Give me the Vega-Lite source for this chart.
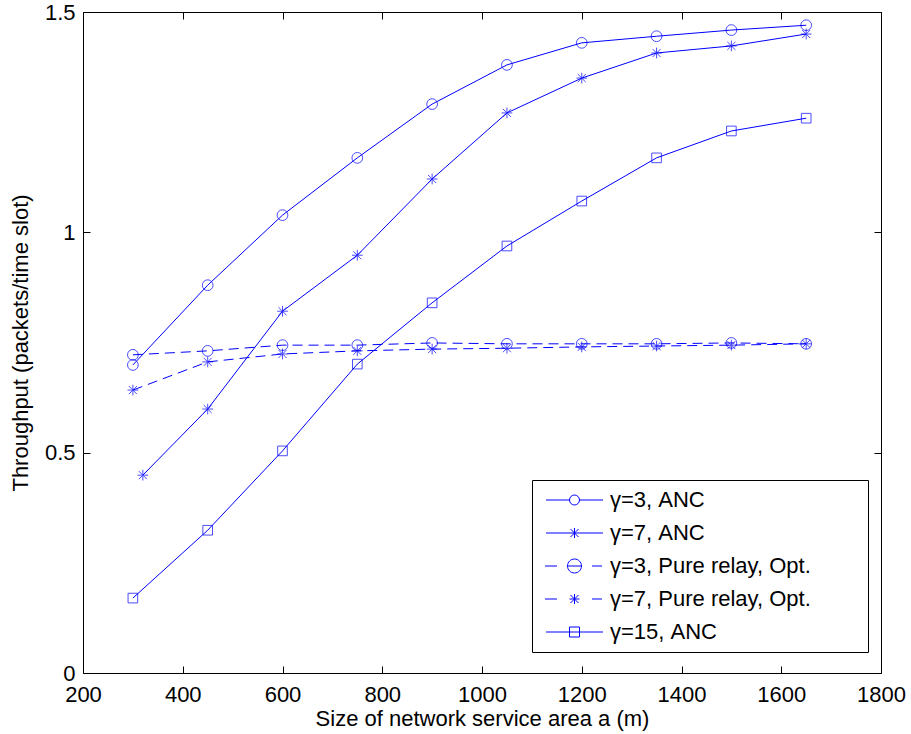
{
  "$schema": "https://vega.github.io/schema/vega-lite/v6.json",
  "width": 798,
  "height": 661,
  "autosize": {"type": "none"},
  "padding": {"left": 83, "top": 12, "right": 30, "bottom": 61},
  "background": "white",
  "config": {
    "font": "Liberation Sans",
    "view": {"stroke": "#000000", "strokeWidth": 1},
    "axis": {
      "domain": false,
      "grid": false,
      "labelFlush": false,
      "labelOverlap": false,
      "tickColor": "#000000",
      "tickSize": -7,
      "tickWidth": 1,
      "labelFont": "Liberation Sans",
      "labelFontSize": 22,
      "labelColor": "#000000",
      "titleFont": "Liberation Sans",
      "titleFontSize": 22,
      "titleFontWeight": "normal",
      "titleColor": "#000000"
    }
  },
  "data": {
    "values": [
      {"series": "γ=3, ANC", "a": 300, "t": 0.699},
      {"series": "γ=3, ANC", "a": 450, "t": 0.880},
      {"series": "γ=3, ANC", "a": 600, "t": 1.039},
      {"series": "γ=3, ANC", "a": 750, "t": 1.169},
      {"series": "γ=3, ANC", "a": 900, "t": 1.291},
      {"series": "γ=3, ANC", "a": 1050, "t": 1.380},
      {"series": "γ=3, ANC", "a": 1200, "t": 1.430},
      {"series": "γ=3, ANC", "a": 1350, "t": 1.445},
      {"series": "γ=3, ANC", "a": 1500, "t": 1.459},
      {"series": "γ=3, ANC", "a": 1650, "t": 1.470},
      {"series": "γ=7, ANC", "a": 320, "t": 0.449},
      {"series": "γ=7, ANC", "a": 450, "t": 0.599},
      {"series": "γ=7, ANC", "a": 600, "t": 0.821},
      {"series": "γ=7, ANC", "a": 750, "t": 0.948},
      {"series": "γ=7, ANC", "a": 900, "t": 1.121},
      {"series": "γ=7, ANC", "a": 1050, "t": 1.271},
      {"series": "γ=7, ANC", "a": 1200, "t": 1.350},
      {"series": "γ=7, ANC", "a": 1350, "t": 1.407},
      {"series": "γ=7, ANC", "a": 1500, "t": 1.423},
      {"series": "γ=7, ANC", "a": 1650, "t": 1.450},
      {"series": "γ=3, Pure relay, Opt.", "a": 300, "t": 0.722},
      {"series": "γ=3, Pure relay, Opt.", "a": 450, "t": 0.731},
      {"series": "γ=3, Pure relay, Opt.", "a": 600, "t": 0.744},
      {"series": "γ=3, Pure relay, Opt.", "a": 750, "t": 0.744},
      {"series": "γ=3, Pure relay, Opt.", "a": 900, "t": 0.749},
      {"series": "γ=3, Pure relay, Opt.", "a": 1050, "t": 0.747},
      {"series": "γ=3, Pure relay, Opt.", "a": 1200, "t": 0.747},
      {"series": "γ=3, Pure relay, Opt.", "a": 1350, "t": 0.747},
      {"series": "γ=3, Pure relay, Opt.", "a": 1500, "t": 0.749},
      {"series": "γ=3, Pure relay, Opt.", "a": 1650, "t": 0.747},
      {"series": "γ=7, Pure relay, Opt.", "a": 300, "t": 0.642},
      {"series": "γ=7, Pure relay, Opt.", "a": 450, "t": 0.706},
      {"series": "γ=7, Pure relay, Opt.", "a": 600, "t": 0.724},
      {"series": "γ=7, Pure relay, Opt.", "a": 750, "t": 0.731},
      {"series": "γ=7, Pure relay, Opt.", "a": 900, "t": 0.735},
      {"series": "γ=7, Pure relay, Opt.", "a": 1050, "t": 0.737},
      {"series": "γ=7, Pure relay, Opt.", "a": 1200, "t": 0.740},
      {"series": "γ=7, Pure relay, Opt.", "a": 1350, "t": 0.742},
      {"series": "γ=7, Pure relay, Opt.", "a": 1500, "t": 0.744},
      {"series": "γ=7, Pure relay, Opt.", "a": 1650, "t": 0.747},
      {"series": "γ=15, ANC", "a": 300, "t": 0.170},
      {"series": "γ=15, ANC", "a": 450, "t": 0.324},
      {"series": "γ=15, ANC", "a": 600, "t": 0.504},
      {"series": "γ=15, ANC", "a": 750, "t": 0.701},
      {"series": "γ=15, ANC", "a": 900, "t": 0.840},
      {"series": "γ=15, ANC", "a": 1050, "t": 0.969},
      {"series": "γ=15, ANC", "a": 1200, "t": 1.071},
      {"series": "γ=15, ANC", "a": 1350, "t": 1.169},
      {"series": "γ=15, ANC", "a": 1500, "t": 1.230},
      {"series": "γ=15, ANC", "a": 1650, "t": 1.259}
    ]
  },
  "layer": [
    {
      "transform": [{"filter": "indexof(datum.series, 'Pure') < 0"}],
      "mark": {"type": "line", "color": "#0000ff", "strokeWidth": 1},
      "encoding": {
        "x": {
          "field": "a", "type": "quantitative",
          "scale": {"domain": [200, 1800], "nice": false, "zero": false},
          "axis": {"orient": "bottom", "values": [200, 400, 600, 800, 1000, 1200, 1400, 1600, 1800], "format": "d", "labelPadding": 18, "title": "Size of network service area a (m)", "titlePadding": 3}
        },
        "y": {
          "field": "t", "type": "quantitative",
          "scale": {"domain": [0, 1.5], "nice": false},
          "axis": {"orient": "left", "values": [0, 0.5, 1, 1.5], "format": "~g", "labelPadding": 15, "title": "Throughput (packets/time slot)", "titlePadding": 12}
        },
        "detail": {"field": "series"}
      }
    },
    {
      "transform": [{"filter": "indexof(datum.series, 'Pure') >= 0"}],
      "mark": {"type": "line", "color": "#0000ff", "strokeWidth": 1, "strokeDash": [10, 6]},
      "encoding": {
        "x": {"field": "a", "type": "quantitative", "axis": null},
        "y": {"field": "t", "type": "quantitative", "axis": null},
        "detail": {"field": "series"}
      }
    },
    {
      "transform": [{"filter": "indexof(datum.series, 'γ=3,') === 0"}],
      "mark": {"type": "point", "shape": "circle", "filled": false, "color": "#0000ff", "strokeWidth": 1, "size": 115},
      "encoding": {
        "x": {
          "field": "a", "type": "quantitative",
          "axis": {"orient": "top", "values": [200, 400, 600, 800, 1000, 1200, 1400, 1600, 1800], "labels": false, "title": null}
        },
        "y": {
          "field": "t", "type": "quantitative",
          "axis": {"orient": "right", "values": [0, 0.5, 1, 1.5], "labels": false, "title": null}
        }
      }
    },
    {
      "transform": [{"filter": "indexof(datum.series, 'γ=7,') === 0"}],
      "mark": {"type": "point", "shape": "M-1,0H1M0,-1V1M-0.75,-0.75L0.75,0.75M-0.75,0.75L0.75,-0.75", "filled": false, "color": "#0000ff", "strokeWidth": 1, "size": 115},
      "encoding": {
        "x": {"field": "a", "type": "quantitative", "axis": null},
        "y": {"field": "t", "type": "quantitative", "axis": null}
      }
    },
    {
      "transform": [{"filter": "indexof(datum.series, 'γ=15,') === 0"}],
      "mark": {"type": "point", "shape": "M-0.9,-0.9H0.9V0.9H-0.9Z", "filled": false, "color": "#0000ff", "strokeWidth": 1, "size": 115},
      "encoding": {
        "x": {"field": "a", "type": "quantitative", "axis": null},
        "y": {"field": "t", "type": "quantitative", "axis": null}
      }
    },
    {
      "transform": [{"filter": "false"}],
      "mark": {"type": "point", "filled": false, "color": "#0000ff", "strokeWidth": 1, "size": 100},
      "encoding": {
        "shape": {
          "field": "series", "type": "nominal",
          "scale": {
            "domain": ["γ=3, ANC", "γ=7, ANC", "γ=3, Pure relay, Opt.", "γ=7, Pure relay, Opt.", "γ=15, ANC"],
            "range": [
              "M-5.7,0H-1M1,0H5.7M-1,0A1,1,0,1,1,1,0A1,1,0,1,1,-1,0Z",
              "M-5.7,0H5.7M0,-1V1M-0.8,-0.8L0.8,0.8M-0.8,0.8L0.8,-0.8",
              "M-5.9,0H-3.5M3.5,0H5.5M-1.4,0H1.4M-1.4,0A1.4,1.4,0,1,1,1.4,0A1.4,1.4,0,1,1,-1.4,0Z",
              "M-5.9,0H-3.5M3.5,0H5.5M-1,0H1M0,-1V1M-0.8,-0.8L0.8,0.8M-0.8,0.8L0.8,-0.8",
              "M-5.7,0H5.7M-1,-1H1V1H-1Z"
            ]
          },
          "legend": {
            "orient": "none",
            "legendX": 449,
            "legendY": 468,
            "title": null,
            "padding": 9,
            "strokeColor": "#000000",
            "fillColor": "#ffffff",
            "symbolSize": 100,
            "symbolOffset": 22.5,
            "labelOffset": 24.5,
            "rowPadding": 11,
            "symbolStrokeColor": "#0000ff",
            "symbolFillColor": "transparent",
            "symbolStrokeWidth": 1,
            "symbolOpacity": 1,
            "labelFont": "Liberation Sans",
            "labelFontSize": 22,
            "labelColor": "#000000",
            "labelLimit": 500,
            "labelExpr": "datum.label + '\u2800\u2800\u2800'"
          }
        }
      }
    }
  ],
  "resolve": {"axis": {"x": "independent", "y": "independent"}}
}
